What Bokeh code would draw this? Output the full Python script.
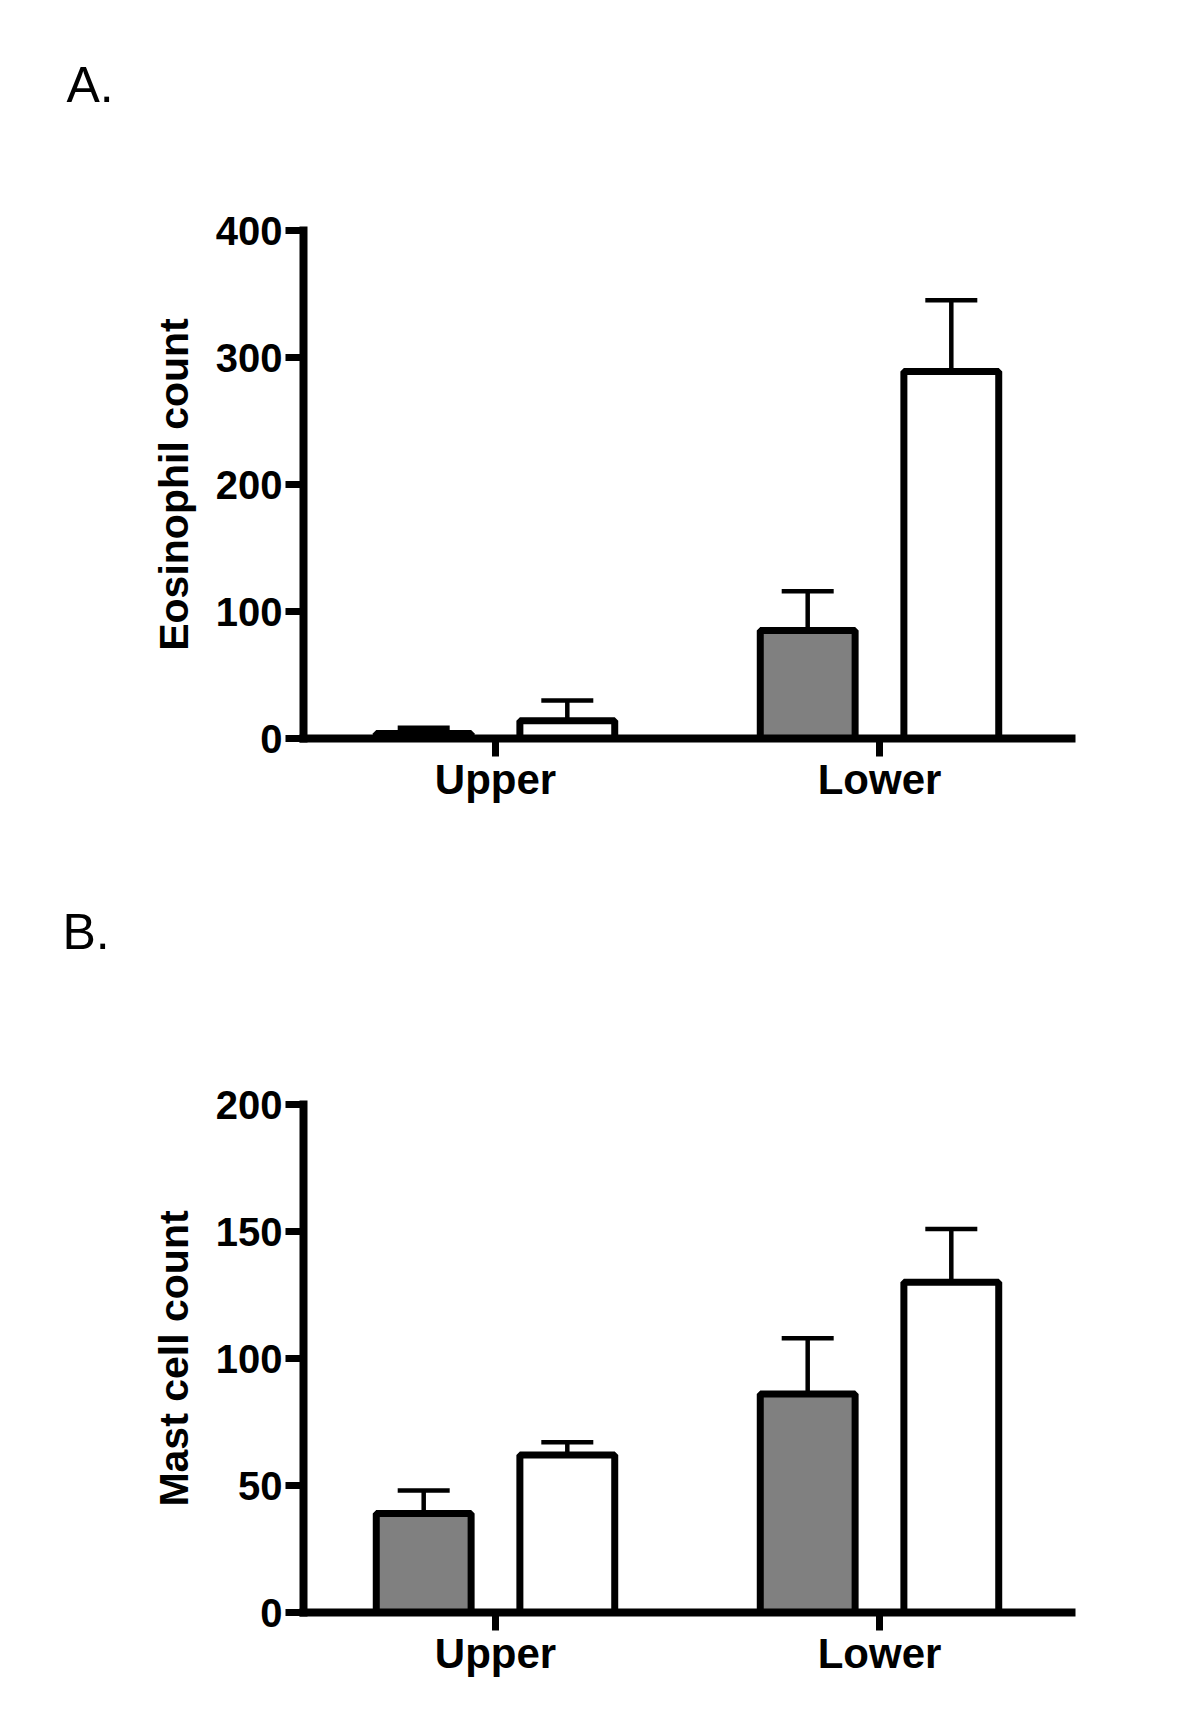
from bokeh.plotting import figure
from bokeh.models import ColumnDataSource, FactorRange, FixedTicker, Whisker, TeeHead, Title
from bokeh.transform import dodge
from bokeh.layouts import column
from bokeh.embed import file_html
from bokeh.resources import INLINE

# ---- data ----
categories = ["Upper", "Lower"]

eos_grey = [4, 85]
eos_grey_sem = [4.5, 31]
eos_white = [14, 289]
eos_white_sem = [16, 56]
eos_ticks = [0, 100, 200, 300, 400]

mast_grey = [39, 86]
mast_grey_sem = [9, 22]
mast_white = [62, 130]
mast_white_sem = [5, 21]
mast_ticks = [0, 50, 100, 150, 200]

GREY = "#808080"
FONT = "Liberation Sans"
OFF = 0.187
BW = 0.247


def make_panel(letter, ylabel, grey, grey_sem, white, white_sem, ticks, top_border, bottom_border,
               title_offset, spacer_standoff):
    p = figure(x_range=FactorRange(*categories, range_padding=0),
               y_range=(0, ticks[-1]),
               frame_width=768, frame_height=508,
               min_border_left=303, min_border_right=100,
               min_border_top=top_border, min_border_bottom=bottom_border,
               output_backend="svg", toolbar_location=None, tools="")
    p.background_fill_color = "white"
    p.border_fill_color = "white"
    p.outline_line_color = None
    p.grid.visible = False

    for vals, sems, off, fill in ((grey, grey_sem, -OFF, GREY), (white, white_sem, OFF, "white")):
        src = ColumnDataSource(dict(cat=categories, val=vals,
                                    hi=[v + s for v, s in zip(vals, sems)]))
        w = Whisker(base=dodge("cat", off, range=p.x_range), lower="val", upper="hi",
                    source=src, dimension="height", line_width=4.5, line_color="black",
                    upper_head=TeeHead(size=52, line_width=4.5, line_color="black"),
                    lower_head=None)
        p.add_layout(w)
        p.vbar(x=dodge("cat", off, range=p.x_range), top="val", bottom=0, width=BW,
               source=src, fill_color=fill, line_color="black", line_width=7)

    for ax in (p.xaxis[0], p.yaxis[0]):
        ax.axis_line_width = 8
        ax.axis_line_color = "black"
        ax.axis_line_cap = "square"
        ax.major_tick_line_width = 7
        ax.major_tick_line_color = "black"
        ax.major_tick_out = 18
        ax.major_tick_in = 0
        ax.minor_tick_line_color = None
        ax.major_label_text_font = FONT
        ax.major_label_text_font_style = "bold"
        ax.major_label_text_color = "black"

    p.yaxis.major_label_text_font_size = "40px"
    p.xaxis.major_label_text_font_size = "42px"
    p.yaxis.ticker = FixedTicker(ticks=ticks)
    p.yaxis.major_label_standoff = 3
    p.xaxis.major_label_standoff = -1
    p.yaxis.axis_label = ylabel
    p.yaxis.axis_label_text_font = FONT
    p.yaxis.axis_label_text_font_style = "bold"
    p.yaxis.axis_label_text_font_size = "41px"
    p.yaxis.axis_label_text_color = "black"
    p.yaxis.axis_label_standoff = 16

    spacer = Title(text=" ", standoff=spacer_standoff, text_font=FONT, text_font_size="10px")
    p.add_layout(spacer, "above")
    t = Title(text=letter, align="left", offset=title_offset, standoff=0,
              text_font=FONT, text_font_size="50px", text_font_style="normal",
              text_color="black")
    p.add_layout(t, "above")
    return p


pA = make_panel("A.", "Eosinophil count", eos_grey, eos_grey_sem, eos_white, eos_white_sem,
                eos_ticks, 230, 120, -237, 105)
pB = make_panel("B.", "Mast cell count", mast_grey, mast_grey_sem, mast_white, mast_white_sem,
                mast_ticks, 246, 94, -241, 132)

layout = column(pA, pB, spacing=0)
open("out.html", "w").write(file_html(layout, INLINE))
